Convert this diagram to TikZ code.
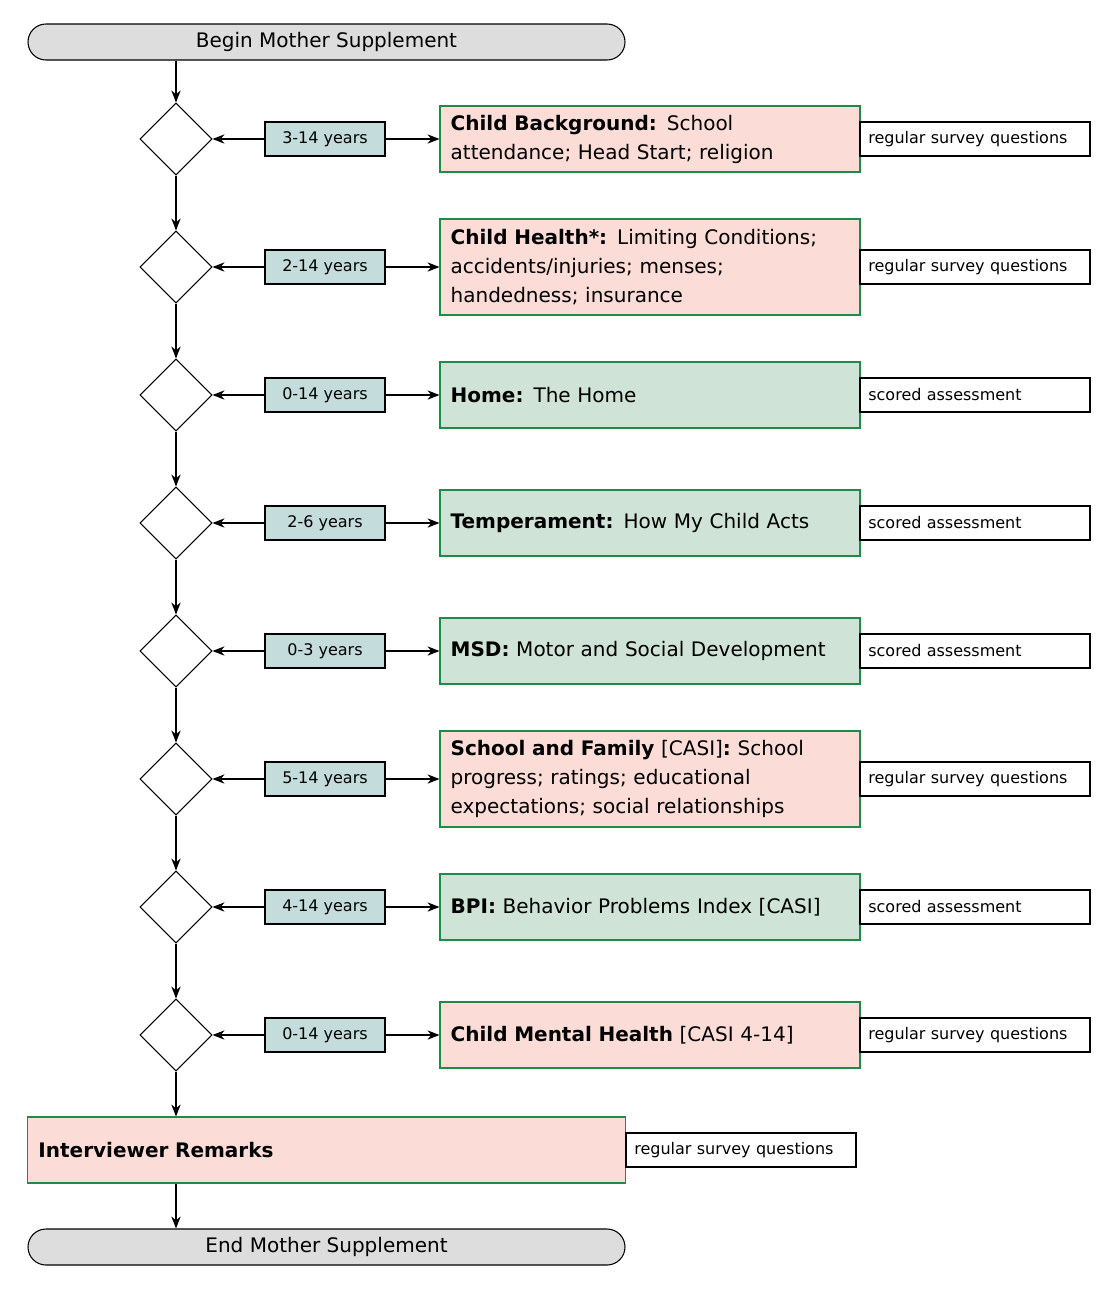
\documentclass[tikz,border=0pt]{standalone}
\usepackage{fontspec}
\setmainfont{DejaVu Sans}
\usetikzlibrary{shapes.geometric,arrows.meta}
\definecolor{pinkf}{HTML}{FBDCD6}
\definecolor{greenf}{HTML}{CFE3D6}
\definecolor{greend}{HTML}{1E8C46}
\definecolor{agef}{HTML}{C5DCDC}
\definecolor{grayf}{HTML}{DDDDDD}
\begin{document}
\begin{tikzpicture}[x=0.75pt,y=-0.75pt,
 term/.style={draw,thick,fill=grayf,rounded corners=13.5pt,minimum width=447.75pt,minimum height=27pt,inner sep=0pt,font=\fontsize{15}{18}\selectfont},
 dia/.style={draw,thick,diamond,minimum width=54pt,minimum height=54pt,inner sep=0pt,aspect=1},
 age/.style={draw,thick,fill=agef,minimum width=90pt,minimum height=25.5pt,inner sep=0pt,font=\fontsize{12}{14}\selectfont},
 box/.style={draw=greend,thick,minimum width=315pt,minimum height=49.5pt,inner xsep=8pt,text width=299pt,align=left,font=\fontsize{15}{21.75}\selectfont},
 pink/.style={box,fill=pinkf},
 green/.style={box,fill=greenf},
 side/.style={draw,thick,fill=white,minimum width=172.5pt,minimum height=25.5pt,inner xsep=6pt,text width=160pt,align=left,font=\fontsize{12}{14}\selectfont},
 arr/.style={thick,-{Stealth[length=9pt,width=7pt]}}]
\useasboundingbox (0,0) rectangle (1119,1300);
\node[term] (begin) at (326.5,42) {Begin Mother Supplement};
\foreach \i/\y/\a/\s/\st/\h/\t in {
 1/139/3-14 years/pink/regular survey questions/49.5pt/{\textbf{Child Background:} School\\attendance; Head Start; religion},
 2/267/2-14 years/pink/regular survey questions/72pt/{\textbf{Child Health*:} Limiting Conditions;\\accidents/injuries; menses;\\handedness; insurance},
 3/395/0-14 years/green/scored assessment/49.5pt/{\textbf{Home:} The Home},
 4/523/2-6 years/green/scored assessment/49.5pt/{\textbf{Temperament:} How My Child Acts},
 5/651/0-3 years/green/scored assessment/49.5pt/{\textbf{MSD:} Motor and Social Development},
 6/779/5-14 years/pink/regular survey questions/72pt/{\textbf{School and Family} [CASI]\textbf{:} School\\progress; ratings; educational\\expectations; social relationships},
 7/907/4-14 years/green/scored assessment/49.5pt/{\textbf{BPI:} Behavior Problems Index [CASI]},
 8/1035/0-14 years/pink/regular survey questions/49.5pt/{\textbf{Child Mental Health} [CASI 4-14]}}{
 \node[dia] (d\i) at (176,\y) {};
 \node[age] (a\i) at (325,\y) {\a};
 \node[\s,minimum height=\h] (c\i) at (650,\y) {\t};
 \node[side] (s\i) at (975,\y) {\st};
 \draw[arr] (a\i) -- (d\i);
 \draw[arr] (a\i) -- (c\i);
}
\node[pink,minimum width=447.75pt,text width=432pt] (rem) at (326.5,1150) {\textbf{Interviewer Remarks}};
\node[side] (srem) at (741,1150) {regular survey questions};
\node[term] (end) at (326.5,1247) {End Mother Supplement};
\draw[arr] (begin.south -| d1) -- (d1);
\foreach \i [evaluate=\i as \j using int(\i+1)] in {1,...,7}{\draw[arr] (d\i) -- (d\j);}
\draw[arr] (d8) -- (d8 |- rem.north);
\draw[arr] (rem.south -| d8) -- (end.north -| d8);
\end{tikzpicture}
\end{document}
